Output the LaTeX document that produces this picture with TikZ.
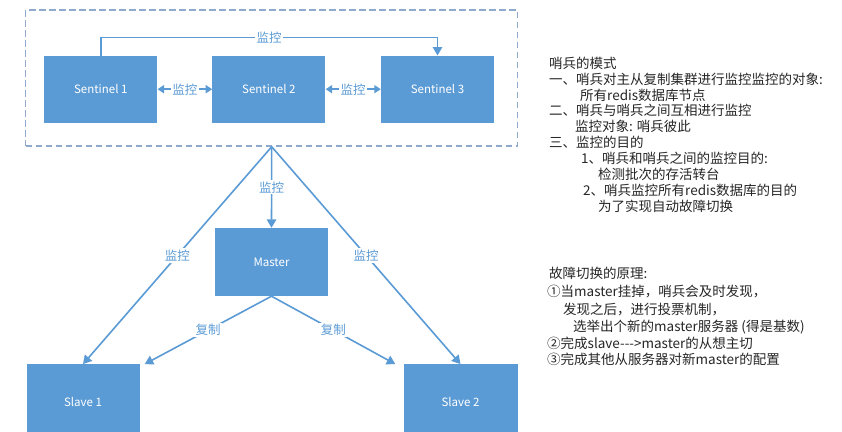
\documentclass[tikz,border=0pt]{standalone}
\usepackage{fontspec}
\setmainfont{Noto Sans CJK SC}
\usetikzlibrary{arrows.meta}
\definecolor{boxblue}{HTML}{5B9BD5}
\definecolor{lineblue}{HTML}{5B9BD5}
\definecolor{dashgray}{HTML}{8FAACC}
\definecolor{txt}{HTML}{262626}
\begin{document}
\begin{tikzpicture}[x=1pt,y=-1pt,
  box/.style={draw=none, fill=boxblue, text=white, minimum width=113pt, minimum height=67pt, inner sep=0pt, font=\fontsize{11.5}{13}\selectfont},
  arr/.style={draw=lineblue, line width=1.6pt, -{Triangle[length=8.5pt,width=9.5pt]}},
  darr/.style={draw=lineblue, line width=1.6pt, {Triangle[length=6.5pt,width=8pt]}-{Triangle[length=6.5pt,width=8pt]}},
  lbl/.style={fill=white, text=lineblue, inner sep=1.5pt, font=\fontsize{12.5}{14}\selectfont},
  txtl/.style={anchor=base west, text=txt, inner sep=0pt, font=\fontsize{13.5}{16}\selectfont}]
\useasboundingbox (0,0) rectangle (842,431);
\clip (0,0) rectangle (842,431);
\fill[white] (0,0) rectangle (842,431);

% group
\node[draw=dashgray, line width=1.5pt, dash pattern=on 6.5pt off 3.5pt, minimum width=492pt, minimum height=136pt, inner sep=0pt] (grp) at (271.7,78) {};

\node[box] (s1) at (100.8,89.2) {Sentinel 1};
\node[box] (s2) at (268.9,89.2) {Sentinel 2};
\node[box] (s3) at (437.5,89.2) {Sentinel 3};

\node[box, minimum height=68pt] (m) at (271.5,262) {Master};
\node[box, minimum height=75pt] (sl1) at (83,401.8) {Slave 1};
\node[box, minimum height=75pt, minimum width=114pt] (sl2) at (460.5,401.8) {Slave 2};

% sentinel connections
\draw[arr] (s1.north) -- ++(0,-18) -| node[lbl,pos=0.25] {监控} (s3.north);
\draw[darr] (s1) -- node[lbl] {监控} (s2);
\draw[darr] (s2) -- node[lbl] {监控} (s3);

% monitoring
\draw[arr] (grp.south) -- node[lbl] {监控} (sl1.north);
\draw[arr] (grp.south) -- node[lbl] {监控} (m.north);
\draw[arr] (grp.south) -- node[lbl] {监控} (sl2.north);

% replication
\draw[arr] (m.south) -- node[lbl] {复制} ([xshift=5pt]sl1.north east);
\draw[arr] (m.south) -- node[lbl] {复制} ([xshift=-8pt]sl2.north west);

% right text
\node[txtl] (t1) at (549,68.3) {哨兵的模式};
\node[txtl] (t2) at (549,84.2) {一、哨兵对主从复制集群进行监控监控的对象:};
\node[txtl] (t3) at (580,100) {所有redis数据库节点};
\node[txtl] (t4) at (549,115.9) {二、哨兵与哨兵之间互相进行监控};
\node[txtl] (t5) at (575,131.7) {监控对象: 哨兵彼此};
\node[txtl] (t6) at (549,147.6) {三、监控的目的};
\node[txtl] (t7) at (581,163.4) {1、哨兵和哨兵之间的监控目的:};
\node[txtl] (t8) at (598,179.3) {检测批次的存活转台};
\node[txtl] (t9) at (583,195.1) {2、哨兵监控所有redis数据库的目的};
\node[txtl] (t10) at (598,211) {为了实现自动故障切换};

\node[txtl] (f1) at (549,278.3) {故障切换的原理:};
\node[txtl] (f2) at (547,296.7) {①当master挂掉，哨兵会及时发现，};
\node[txtl] (f3) at (563,314.3) {发现之后，进行投票机制，};
\node[txtl] (f4) at (573,331.7) {选举出个新的master服务器 (得是基数)};
\node[txtl] (f5) at (547,348.3) {②完成slave-{}-{}->master的从想主切};
\node[txtl] (f6) at (547,364.3) {③完成其他从服务器对新master的配置};
\end{tikzpicture}
\end{document}
